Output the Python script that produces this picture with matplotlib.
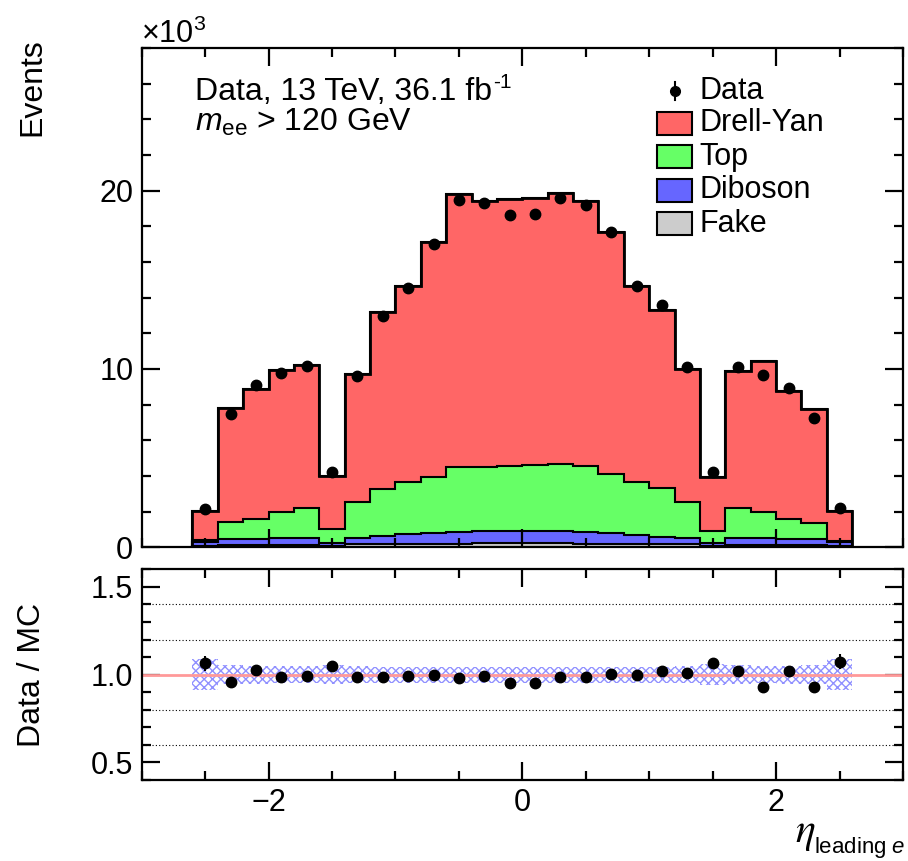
import numpy as np
import matplotlib.pyplot as plt
from matplotlib.patches import Rectangle
from matplotlib.ticker import MultipleLocator, FormatStrFormatter

plt.rcParams['font.family'] = ['Liberation Sans', 'DejaVu Sans']
plt.rcParams['mathtext.fontset'] = 'custom'
plt.rcParams['mathtext.rm'] = 'Liberation Sans'
plt.rcParams['mathtext.it'] = 'Liberation Sans:italic'
plt.rcParams['hatch.linewidth'] = 1.0

W, H = 908, 861

# eta bins
edges = np.round(np.arange(-2.6, 2.61, 0.2), 2)
centers = 0.5 * (edges[1:] + edges[:-1])

# events, x10^3
data = [2.15, 7.49, 9.10, 9.78, 10.19, 4.21, 9.59, 12.99, 14.56, 17.03, 19.48, 19.31, 18.65,
        18.69, 19.57, 19.18, 17.70, 14.64, 13.59, 10.11, 4.22, 10.11, 9.68, 8.93, 7.23, 2.20]
drell_yan = [1.61, 6.41, 7.29, 7.95, 8.05, 3.01, 7.20, 9.91, 11.01, 13.15, 15.32, 14.92, 15.01,
             14.97, 15.22, 14.88, 13.58, 11.03, 9.97, 7.46, 3.03, 7.72, 8.43, 7.17, 6.38, 1.70]
top = [0.11, 0.95, 1.11, 1.48, 1.67, 0.79, 2.02, 2.67, 2.94, 3.16, 3.63, 3.60, 3.62,
       3.70, 3.75, 3.68, 3.31, 2.96, 2.75, 2.04, 0.71, 1.67, 1.50, 1.12, 0.93, 0.05]
diboson = [0.20, 0.33, 0.35, 0.36, 0.37, 0.14, 0.36, 0.44, 0.53, 0.60, 0.65, 0.68, 0.70,
           0.70, 0.68, 0.65, 0.58, 0.49, 0.40, 0.34, 0.14, 0.37, 0.36, 0.35, 0.33, 0.20]
fake = [0.10, 0.12, 0.13, 0.14, 0.15, 0.08, 0.16, 0.18, 0.19, 0.20, 0.21, 0.22, 0.22,
        0.22, 0.22, 0.21, 0.20, 0.19, 0.18, 0.16, 0.08, 0.15, 0.14, 0.13, 0.12, 0.10]

# ratio panel: data stat error and MC uncertainty band (relative)
ratio_err = [0.042, 0.02, 0.018, 0.018, 0.018, 0.03, 0.018, 0.014, 0.012, 0.012, 0.012, 0.012, 0.012,
             0.012, 0.012, 0.012, 0.012, 0.012, 0.014, 0.018, 0.03, 0.018, 0.018, 0.018, 0.02, 0.042]
mc_unc = [0.09, 0.055, 0.052, 0.05, 0.05, 0.055, 0.048, 0.046, 0.045, 0.045, 0.045, 0.045, 0.045,
          0.045, 0.045, 0.045, 0.045, 0.045, 0.046, 0.048, 0.058, 0.055, 0.05, 0.052, 0.055, 0.09]

names = ['Drell-Yan', 'Top', 'Diboson', 'Fake']
colors = ['#ff6666', '#66ff66', '#6666ff', '#cccccc']

data = np.array(data)
comps = [np.array(c) for c in (drell_yan, top, diboson, fake)]
# cumulative stack, drawn from the biggest down
cum = [sum(comps[i:]) for i in range(4)]
mc = cum[0]
ratio = data / mc
ratio_err = np.array(ratio_err)
mc_unc = np.array(mc_unc)


def fx(x):
    return x / W


def fy(y):
    return 1 - y / H


fig = plt.figure(figsize=(W / 100, H / 100), dpi=100)
ax = fig.add_axes([fx(141.7), fy(547.3), fx(903) - fx(141.7), fy(48) - fy(547.3)])
axr = fig.add_axes([fx(141.7), fy(780), fx(903) - fx(141.7), fy(569.3) - fy(780)])

for c, col in zip(cum, colors):
    ax.stairs(c, edges, baseline=0, fill=True, facecolor=col, edgecolor='black', linewidth=1.5)
ax.stairs(mc, edges, baseline=0, fill=False, edgecolor='black', linewidth=2.0)
ax.errorbar(centers, data, yerr=ratio_err * mc, fmt='o', color='black', ms=7.5, elinewidth=1.5, capsize=0)

ax.set_xlim(-3, 3)
ax.set_ylim(0, 28)

axr.stairs(1 + mc_unc, edges, baseline=1 - mc_unc, fill=True, facecolor='none',
           edgecolor='#9090ff', hatch='xxxx', linewidth=0)
for yl in (0.6, 0.8, 1.2, 1.4):
    axr.axhline(yl, color='black', ls=(0, (1, 2)), lw=0.8)
axr.axhline(1.0, color='#ff9999', lw=2)
axr.errorbar(centers, ratio, yerr=ratio_err, fmt='o', color='black', ms=7.5, elinewidth=1.5, capsize=0)
axr.set_xlim(-3, 3)
axr.set_ylim(0.4, 1.6)

for a in (ax, axr):
    for s in a.spines.values():
        s.set_linewidth(1.6)
    a.xaxis.set_major_locator(MultipleLocator(2))
    a.xaxis.set_minor_locator(MultipleLocator(0.5))
    a.tick_params(which='both', direction='in', top=True, right=True, width=1.6, labelsize=22, pad=6)
    a.tick_params(which='major', length=13)
    a.tick_params(which='minor', length=6.5)

ax.yaxis.set_major_locator(MultipleLocator(10))
ax.yaxis.set_minor_locator(MultipleLocator(2))
ax.tick_params(labelbottom=False)
axr.yaxis.set_major_locator(MultipleLocator(0.5))
axr.yaxis.set_minor_locator(MultipleLocator(0.1))
axr.yaxis.set_major_formatter(FormatStrFormatter('%.1f'))

# labels
fig.text(fx(141), fy(43), r'$\times10^{3}$', fontsize=22, ha='left', va='baseline')
fig.text(fx(47), fy(38), 'Events', rotation=90, fontsize=23, ha='right', va='top')
fig.text(fx(47), fy(675), 'Data / MC', rotation=90, fontsize=23, ha='right', va='center')
fig.text(fx(815), fy(842), r'$\eta$', fontsize=30, ha='right', va='baseline', math_fontfamily='stix')
fig.text(fx(905), fy(853), r'leading $e$', fontsize=16, ha='right', va='baseline')

lumi = fig.text(fx(195), fy(100), 'Data, 13 TeV, 36.1 fb', fontsize=23, ha='left', va='baseline')
ax.annotate('-1', xy=(1.0, 1.0), xycoords=lumi, xytext=(1, 4), textcoords='offset pixels',
            fontsize=15, ha='left', va='top', annotation_clip=False)
fig.text(fx(195), fy(131), r'$m_{\mathrm{ee}}$ > 120 GeV', fontsize=23, ha='left', va='baseline')

# legend
fig.add_artist(plt.Line2D([fx(675), fx(675)], [fy(82), fy(100)], color='black', lw=1.5))
fig.add_artist(plt.Line2D([fx(675)], [fy(91)], marker='o', color='black', ms=7))
fig.text(fx(699), fy(91), 'Data', fontsize=22, ha='left', va='center')
for i, (nm, col) in enumerate(zip(names, colors)):
    yc = 123 + i * 33.5
    fig.add_artist(Rectangle((fx(657), fy(yc + 11.5)), fx(692) - fx(657), fy(yc - 11.5) - fy(yc + 11.5),
                             facecolor=col, edgecolor='black', lw=1.5, transform=fig.transFigure))
    fig.text(fx(699), fy(yc), nm, fontsize=22, ha='left', va='center')

fig.savefig('out.png', dpi=100)
